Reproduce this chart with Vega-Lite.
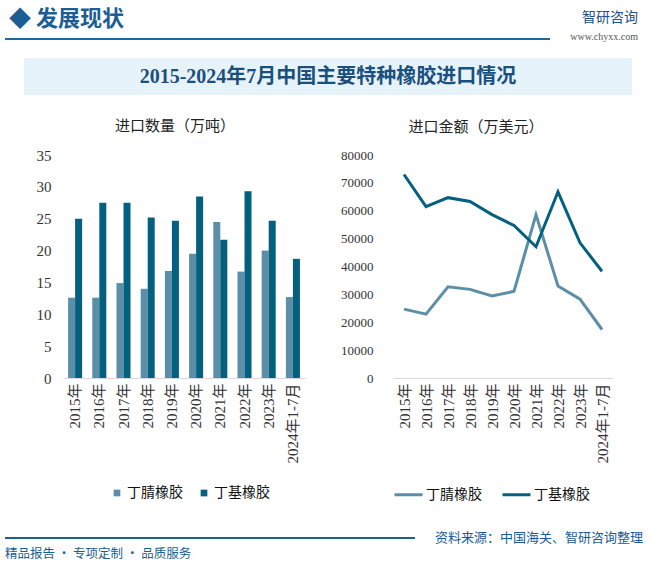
{
  "$schema": "https://vega.github.io/schema/vega-lite/v6.json",
  "background": "white",
  "padding": {"left": 5, "top": 8, "right": 4, "bottom": 0},
  "config": {
    "view": {"stroke": null},
    "font": "Noto Sans CJK SC",
    "title": {"font": "Noto Sans CJK SC"},
    "axis": {"labelFont": "Liberation Serif, Noto Sans CJK SC"},
    "legend": {"labelFont": "Noto Sans CJK SC"}
  },
  "datasets": {
    "rubber": [
      {"year": "2015年", "type": "丁腈橡胶", "qty": 12.6, "amount": 24700},
      {"year": "2016年", "type": "丁腈橡胶", "qty": 12.6, "amount": 22900},
      {"year": "2017年", "type": "丁腈橡胶", "qty": 14.9, "amount": 32700},
      {"year": "2018年", "type": "丁腈橡胶", "qty": 14.0, "amount": 31800},
      {"year": "2019年", "type": "丁腈橡胶", "qty": 16.8, "amount": 29400},
      {"year": "2020年", "type": "丁腈橡胶", "qty": 19.5, "amount": 31100},
      {"year": "2021年", "type": "丁腈橡胶", "qty": 24.5, "amount": 58600},
      {"year": "2022年", "type": "丁腈橡胶", "qty": 16.7, "amount": 33000},
      {"year": "2023年", "type": "丁腈橡胶", "qty": 20.0, "amount": 28300},
      {"year": "2024年1-7月", "type": "丁腈橡胶", "qty": 12.7, "amount": 17400},
      {"year": "2015年", "type": "丁基橡胶", "qty": 25.0, "amount": 73000},
      {"year": "2016年", "type": "丁基橡胶", "qty": 27.5, "amount": 61500},
      {"year": "2017年", "type": "丁基橡胶", "qty": 27.5, "amount": 64700},
      {"year": "2018年", "type": "丁基橡胶", "qty": 25.2, "amount": 63300},
      {"year": "2019年", "type": "丁基橡胶", "qty": 24.7, "amount": 58600},
      {"year": "2020年", "type": "丁基橡胶", "qty": 28.5, "amount": 54700},
      {"year": "2021年", "type": "丁基橡胶", "qty": 21.7, "amount": 47100},
      {"year": "2022年", "type": "丁基橡胶", "qty": 29.3, "amount": 66800},
      {"year": "2023年", "type": "丁基橡胶", "qty": 24.7, "amount": 48500},
      {"year": "2024年1-7月", "type": "丁基橡胶", "qty": 18.7, "amount": 38300}
    ]
  },
  "spacing": 30,
  "vconcat": [
    {
      "spacing": 14,
      "vconcat": [
        {
          "bounds": "flush",
          "spacing": 10,
          "hconcat": [
            {
              "width": 545,
              "height": 2,
              "view": {"fill": "#1a6aa0", "stroke": null},
              "title": {"text": "◆ 发展现状", "anchor": "start", "fontSize": 22, "fontWeight": "bold", "color": "#1b5e96", "dx": 4, "offset": 2},
              "data": {"values": [{"t": ""}]},
              "mark": {"type": "text"},
              "encoding": {"text": {"field": "t"}}
            },
            {
              "width": 78,
              "height": 2,
              "title": {"text": "智研咨询", "subtitle": "www.chyxx.com", "anchor": "end", "fontSize": 14, "fontWeight": "normal", "color": "#1d4f8c", "subtitleFontSize": 10, "subtitleFont": "Liberation Serif", "subtitleColor": "#555555", "subtitlePadding": 7, "offset": -9},
              "data": {"values": [{"t": ""}]},
              "mark": {"type": "text"},
              "encoding": {"text": {"field": "t"}}
            }
          ]
        },
        {
          "spacing": 24,
          "vconcat": [
            {
              "spacing": 18,
              "hconcat": [
                {
                  "width": 1,
                  "height": 37,
                  "data": {"values": [{"t": ""}]},
                  "mark": {"type": "text"},
                  "encoding": {"text": {"field": "t"}}
                },
                {
                  "width": 608,
                  "height": 37,
                  "view": {"fill": "#e6f3fb", "stroke": null},
                  "data": {"values": [{"t": "2015-2024年7月中国主要特种橡胶进口情况"}]},
                  "mark": {"type": "text", "fontSize": 20, "fontWeight": "bold", "color": "#1b4f7c", "font": "Liberation Serif, Noto Sans CJK SC", "baseline": "middle", "align": "center"},
                  "encoding": {"text": {"field": "t"}}
                }
              ]
            },
            {
              "spacing": 25,
              "hconcat": [
                {
                  "width": 1,
                  "height": 223,
                  "data": {"values": [{"t": ""}]},
                  "mark": {"type": "text"},
                  "encoding": {"text": {"field": "t"}}
                },
                {
                  "spacing": 35,
                  "resolve": {"scale": {"color": "independent"}, "legend": {"color": "independent"}},
                  "hconcat": [
                    {
                      "width": 242,
                      "height": 223,
                      "title": {"text": "进口数量（万吨）", "fontSize": 15, "fontWeight": "normal", "color": "#222222", "offset": 14, "dx": -9},
                      "data": {"name": "rubber"},
                      "mark": {"type": "bar"},
                      "encoding": {
                        "x": {"field": "year", "type": "nominal", "sort": null,
                          "scale": {"paddingInner": 0.42, "paddingOuter": 0.21},
                          "axis": {"title": null, "labelAngle": -90, "labelFontSize": 15, "labelColor": "#333333", "domainColor": "#d9d9d9", "ticks": false, "labelPadding": 5}},
                        "xOffset": {"field": "type", "type": "nominal", "sort": ["丁腈橡胶", "丁基橡胶"]},
                        "y": {"field": "qty", "type": "quantitative", "scale": {"domain": [0, 35]},
                          "axis": {"title": null, "values": [0, 5, 10, 15, 20, 25, 30, 35], "domain": false, "ticks": false, "grid": false, "labelFontSize": 15, "labelColor": "#333333", "labelPadding": 12, "minExtent": 32}},
                        "color": {"field": "type", "type": "nominal", "sort": ["丁腈橡胶", "丁基橡胶"],
                          "scale": {"range": ["#5b8fa7", "#03607f"]},
                          "legend": {"title": null, "orient": "none", "legendX": 47, "legendY": 331, "direction": "horizontal", "symbolType": "square", "symbolSize": 45, "labelFontSize": 14, "labelColor": "#111111", "columnPadding": 14, "labelOffset": 3}}
                      }
                    },
                    {
                      "width": 220,
                      "height": 223,
                      "title": {"text": "进口金额（万美元）", "fontSize": 15, "fontWeight": "normal", "color": "#222222", "offset": 14, "dx": -27},
                      "data": {"name": "rubber"},
                      "mark": {"type": "line", "strokeWidth": 3},
                      "encoding": {
                        "x": {"field": "year", "type": "nominal", "sort": null,
                          "scale": {"type": "point", "padding": 0.5},
                          "axis": {"title": null, "labelAngle": -90, "labelFontSize": 15, "labelColor": "#333333", "domainColor": "#d9d9d9", "ticks": false, "labelPadding": 5}},
                        "y": {"field": "amount", "type": "quantitative", "scale": {"domain": [0, 80000]},
                          "axis": {"title": null, "values": [0, 10000, 20000, 30000, 40000, 50000, 60000, 70000, 80000], "format": "d", "domain": false, "ticks": false, "grid": false, "labelFontSize": 13, "labelColor": "#333333", "labelPadding": 20, "minExtent": 52}},
                        "color": {"field": "type", "type": "nominal", "sort": ["丁腈橡胶", "丁基橡胶"],
                          "scale": {"range": ["#5b8fa7", "#03607f"]},
                          "legend": {"title": null, "orient": "none", "legendX": 0, "legendY": 324, "direction": "horizontal", "symbolType": "stroke", "symbolSize": 784, "symbolStrokeWidth": 3, "labelFontSize": 14, "labelColor": "#111111", "columnPadding": 14, "labelOffset": 2}}
                      }
                    }
                  ]
                }
              ]
            }
          ]
        }
      ]
    },
    {
      "bounds": "flush",
      "spacing": 18,
      "hconcat": [
        {
          "width": 410,
          "height": 2,
          "view": {"fill": "#1a6090", "stroke": null},
          "title": {"text": "精品报告 · 专项定制 · 品质服务", "orient": "bottom", "anchor": "start", "fontSize": 12.5, "fontWeight": "normal", "color": "#1a5f8f", "offset": 5},
          "data": {"values": [{"t": ""}]},
          "mark": {"type": "text"},
          "encoding": {"text": {"field": "t"}}
        },
        {
          "width": 212,
          "height": 2,
          "data": {"values": [{"t": "资料来源：中国海关、智研咨询整理"}]},
          "mark": {"type": "text", "fontSize": 13, "color": "#1a5a9a", "baseline": "middle", "align": "center"},
          "encoding": {"text": {"field": "t"}}
        }
      ]
    }
  ]
}
